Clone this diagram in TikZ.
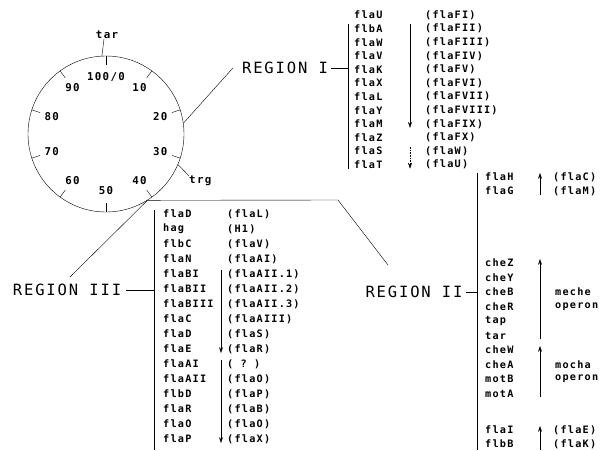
\documentclass[tikz,border=0pt]{standalone}
\usepackage{fontspec}
\newfontfamily\genefont[LetterSpace=12]{DejaVu Sans Mono}
\usetikzlibrary{arrows.meta}
\tikzset{
  gene/.style={anchor=west,inner sep=0pt,font=\genefont\bfseries\fontsize{10.2}{12}\selectfont},
  dialtext/.style={inner sep=0pt,font=\genefont\bfseries\fontsize{10.8}{12}\selectfont},
  region/.style={inner sep=0pt,font=\genefont\fontsize{15.5}{18}\selectfont},
  down/.style={-{Stealth[length=6pt,width=4pt]},semithick},
  link/.style={thin}
}
\begin{document}
\begin{tikzpicture}[x=1pt,y=-1pt]
  \useasboundingbox (0,0) rectangle (615,450);
  % genetic map with ticks every 10 min
  \node[draw,circle,thin,minimum size=156pt,inner sep=0pt] (dial) at (106,134) {};
  \foreach \lbl [count=\k from 0, evaluate=\k as \t using 90-36*\k] in {{100/0},10,20,30,40,50,60,70,80,90} {
    \draw[link] (dial.\t) -- ++(\t:-9pt);
    \node[dialtext] at ([shift={(\t:57pt)}]dial.center) {\lbl};
  }
  \node[dialtext] (tarmark) at (107,35) {tar};
  \draw[link] (dial.93) -- ([xshift=-3pt]tarmark.south);
  \node[dialtext,anchor=west] (trgmark) at (189,181) {trg};
  \draw[link] (dial.-23) -- (trgmark.north west);

  % region labels and the lines out of the map
  \node[region] (regI) at (285,68) {REGION I};
  \node[region] (regII) at (414,292) {REGION II};
  \node[region] (regIII) at (67,290) {REGION III};
  \coordinate (bend) at (338,200);
  \coordinate (endII) at (388,265);
  \coordinate (endIII) at (70,277);
  \draw[link] (dial.8) -- ([xshift=-9pt]regI.west);
  \draw[link] (dial.-58) -- (bend) -- (endII);
  \draw[link] (dial.-58) -- (endIII);

  % region I
  \foreach \g/\h [count=\i from 0] in {flaU/flaFI,flbA/flaFII,flaW/flaFIII,flaV/flaFIV,flaK/flaFV,flaX/flaFVI,
      flaL/flaFVII,flaY/flaFVIII,flaM/flaFIX,flaZ/flaFX,flaS/flaW,flaT/flaU} {
    \node[gene] (nI\i) at (354,15+13.6*\i) {\g};
    \node[gene] (pI\i) at (425,15+13.6*\i) {(\h)};
  }
  \coordinate (brI) at (348,68);
  \draw[link] ([xshift=3pt]regI.east) -- (brI);
  \draw[link] (348,0 |- nI1.north) -- (348,0 |- nI11.south);
  \draw[down] (410,0 |- nI1.north) -- (410,0 |- nI8.south);
  \draw[down,densely dotted] (410,0 |- nI10.north) -- (410,0 |- nI11.south);

  % region III
  \foreach \g/\h [count=\i from 0] in {flaD/flaL,hag/H1,flbC/flaV,flaN/flaAI,flaBI/flaAII.1,flaBII/flaAII.2,
      flaBIII/flaAII.3,flaC/flaAIII,flaD/flaS,flaE/flaR,flaAI/~?~,flaAII/flaO,flbD/flaP,flaR/flaB,flaO/flaO,flaP/flaX} {
    \node[gene] (nIII\i) at (163,214+15*\i) {\g};
    \node[gene] (pIII\i) at (227,214+15*\i) {(\h)};
  }
  \coordinate (brIII) at (154,290);
  \draw[link] ([xshift=5pt]regIII.east) -- (brIII);
  \draw[link] (154,0 |- nIII0.north) -- (154,450);
  \draw[down] (221,0 |- nIII4.north) -- (221,0 |- nIII9.south);
  \draw[down] (221,0 |- nIII10.north) -- (221,0 |- nIII15.south);

  % region II
  \foreach \g/\y in {flaH/177,flaG/191,cheZ/263,cheY/277.5,cheB/292,cheR/306.5,tap/321,tar/335.5,
      cheW/350,cheA/364.5,motB/379,motA/393.5,flaI/430,flbB/444}
    \node[gene] (ii\g) at (485,\y) {\g};
  \node[gene] at (553,177) {(flaC)};
  \node[gene] at (553,191) {(flaM)};
  \node[gene] at (555,292) {meche};
  \node[gene] at (555,306.5) {operon};
  \node[gene] at (555,364.5) {mocha};
  \node[gene] at (555,379) {operon};
  \node[gene] at (553,430) {(flaE)};
  \node[gene] at (553,444) {(flaK)};
  \coordinate (brII) at (477,292);
  \draw[link] ([xshift=3pt]regII.east) -- (brII);
  \draw[link] (477,0 |- iiflaH.north) -- (477,450);
  \draw[down] (540,0 |- iiflaG.south) -- (540,0 |- iiflaH.north);
  \draw[down] (540,0 |- iitar.south) -- (540,0 |- iicheZ.north);
  \draw[down] (540,0 |- iimotA.south) -- (540,0 |- iicheW.north);
  \draw[down] (540,450) -- (540,0 |- iiflaI.north);
\end{tikzpicture}
\end{document}
